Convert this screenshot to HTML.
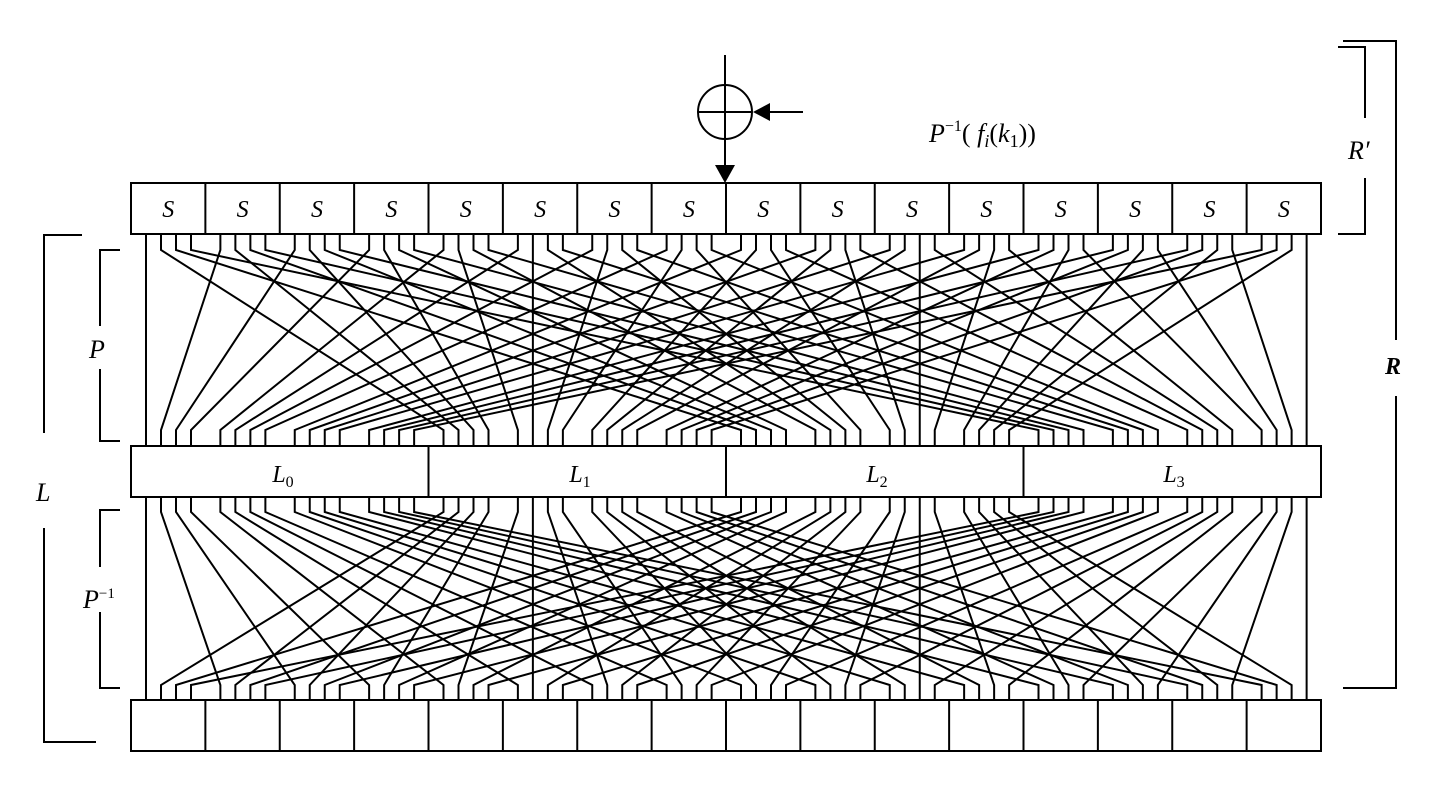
<!DOCTYPE html>
<html><head><meta charset="utf-8"><style>
html,body{margin:0;padding:0;background:#fff;}
svg{display:block;}
text{font-family:"Liberation Serif",serif;fill:#000;}
</style></head><body>
<svg id="s" width="1445" height="789" viewBox="0 0 1445 789" xmlns="http://www.w3.org/2000/svg">
<g stroke="#000" stroke-width="2" fill="none" id="g">
  <rect x="131" y="183" width="1190" height="51"/>
  <rect x="131" y="446" width="1190" height="51"/>
  <line x1="428.5" y1="446" x2="428.5" y2="497"/>
  <line x1="726" y1="446" x2="726" y2="497"/>
  <line x1="1023.5" y1="446" x2="1023.5" y2="497"/>
  <rect x="131" y="700" width="1190" height="51"/>
  <circle cx="725" cy="112" r="27"/>
  <line x1="725" y1="55" x2="725" y2="165"/>
  <line x1="698" y1="112" x2="752" y2="112"/>
  <line x1="803" y1="112" x2="768" y2="112"/>
  <polyline points="82,235 44,235 44,433"/>
  <polyline points="44,528 44,742 96,742"/>
  <polyline points="120,250 100,250 100,326"/>
  <polyline points="100,369 100,441 120,441"/>
  <polyline points="120,510 100,510 100,567"/>
  <polyline points="100,612 100,688 120,688"/>
  <polyline points="1338,47 1365,47 1365,118"/>
  <polyline points="1365,178 1365,234 1338,234"/>
  <polyline points="1343,41 1396,41 1396,340"/>
  <polyline points="1396,396 1396,688 1343,688"/>
</g>
<g fill="#000">
  <polygon points="715,165 735,165 725,183"/>
  <polygon points="753,112 770,103 770,121"/>
</g>
<g id="t" font-size="24" font-style="italic" text-anchor="middle"></g>
<text x="283" y="482" font-size="24" font-style="italic" text-anchor="middle">L<tspan font-style="normal" font-size="16" dy="5">0</tspan></text>
<text x="580" y="482" font-size="24" font-style="italic" text-anchor="middle">L<tspan font-style="normal" font-size="16" dy="5">1</tspan></text>
<text x="877" y="482" font-size="24" font-style="italic" text-anchor="middle">L<tspan font-style="normal" font-size="16" dy="5">2</tspan></text>
<text x="1174" y="482" font-size="24" font-style="italic" text-anchor="middle">L<tspan font-style="normal" font-size="16" dy="5">3</tspan></text>
<text x="929" y="142" font-size="26"><tspan font-style="italic">P</tspan><tspan font-size="16" dy="-11">−1</tspan><tspan dy="11">(</tspan><tspan font-style="italic"> f</tspan><tspan font-style="italic" font-size="18" dy="5">i</tspan><tspan dy="-5">(</tspan><tspan font-style="italic">k</tspan><tspan font-size="18" dy="5">1</tspan><tspan dy="-5">))</tspan></text>
<text x="36" y="501" font-size="26" font-style="italic">L</text>
<text x="89" y="358" font-size="26" font-style="italic">P</text>
<text x="83" y="608" font-size="26" font-style="italic">P<tspan font-style="normal" font-size="15" dy="-10">−1</tspan></text>
<text x="1348" y="159" font-size="26" font-style="italic">R′</text>
<text x="1385" y="374" font-size="24" font-style="italic" font-weight="bold">R</text>
</svg>
<script>
(function(){
var ns="http://www.w3.org/2000/svg",g=document.getElementById('g'),t=document.getElementById('t');
var W=1190/16;
function px(i){return 131+W*Math.floor(i/4)+15+15*(i%4);}
function P(i){return 16*(i%4)+Math.floor(i/4);}
function pl(pts){var p=document.createElementNS(ns,'polyline');p.setAttribute('points',pts);g.appendChild(p);}
function ln(x,y1,y2){var l=document.createElementNS(ns,'line');l.setAttribute('x1',x);l.setAttribute('x2',x);l.setAttribute('y1',y1);l.setAttribute('y2',y2);g.appendChild(l);}
for(var b=1;b<16;b++){var x=131+W*b;ln(x,183,234);ln(x,700,751);}
for(var i=0;i<64;i++){
  var a=px(i),c=px(P(i));
  pl(a+",234 "+a+",250 "+c+",430 "+c+",446");
  pl(c+",497 "+c+",512 "+a+",685 "+a+",700");
}
for(var b=0;b<16;b++){var e=document.createElementNS(ns,'text');e.setAttribute('x',131+W*b+W/2);e.setAttribute('y',217);e.textContent='S';t.appendChild(e);}
})();
</script>
</body></html>
